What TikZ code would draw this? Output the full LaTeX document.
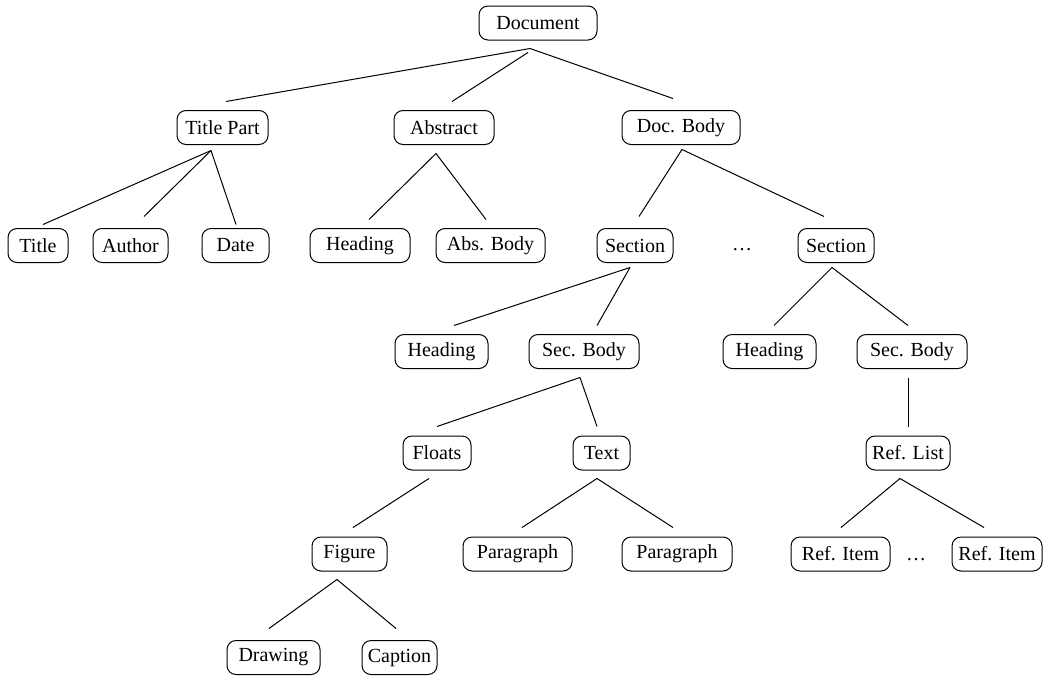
\documentclass[tikz,border=0pt]{standalone}
\usepackage{fontspec}
\setmainfont{Liberation Serif}
\begin{document}
\begin{tikzpicture}[x=0.5pt,y=-0.5pt,
  tbox/.style={draw, rounded corners=4.5pt, line width=0.5pt, inner sep=0pt,
               minimum height=17pt, font=\fontsize{10}{12}\selectfont},
  link/.style={line width=0.5pt},
  dotlabel/.style={anchor=base, inner sep=0pt, font=\fontsize{10}{12}\selectfont}]
\useasboundingbox (0,0) rectangle (1044,675);
% row 1
\node[tbox, minimum width=59pt] (doc) at (538,23) {Document};
% row 2
\node[tbox, minimum width=45.5pt] (tp) at (222.5,127.5) {Title Part};
\node[tbox, minimum width=50pt] (abs) at (444,127.5) {Abstract};
\node[tbox, minimum width=59pt] (db) at (681,127.5) {Doc. Body};
% row 3
\node[tbox, minimum width=30pt] (title) at (38,245.5) {Title};
\node[tbox, minimum width=37.5pt] (author) at (130.5,245.5) {Author};
\node[tbox, minimum width=33.5pt] (date) at (235.5,245.5) {Date};
\node[tbox, minimum width=50pt] (head0) at (360,245.5) {Heading};
\node[tbox, minimum width=54.5pt] (absbody) at (490.5,245.5) {Abs. Body};
\node[tbox, minimum width=38pt] (sec1) at (635,245.5) {Section};
\node[dotlabel] (dots1) at (742,250) {\dots};
\node[tbox, minimum width=38pt] (sec2) at (836,245.5) {Section};
% row 4
\node[tbox, minimum width=46.5pt] (head1) at (441.5,351.5) {Heading};
\node[tbox, minimum width=55pt] (sb1) at (584,351.5) {Sec. Body};
\node[tbox, minimum width=46.5pt] (head2) at (769.5,351.5) {Heading};
\node[tbox, minimum width=55pt] (sb2) at (912,351.5) {Sec. Body};
% row 5
\node[tbox, minimum width=34pt] (floats) at (437,453) {Floats};
\node[tbox, minimum width=28.5pt] (text) at (601.5,453) {Text};
\node[tbox, minimum width=42pt] (reflist) at (908,453) {Ref. List};
% row 6
\node[tbox, minimum width=37.5pt] (figure) at (349.5,554) {Figure};
\node[tbox, minimum width=54.5pt] (par1) at (517.5,554) {Paragraph};
\node[tbox, minimum width=55pt] (par2) at (677,554) {Paragraph};
\node[tbox, minimum width=49.5pt] (ri1) at (840.5,554) {Ref. Item};
\node[dotlabel] (dots2) at (916,560) {\dots};
\node[tbox, minimum width=45pt] (ri2) at (997,554) {Ref. Item};
% row 7
\node[tbox, minimum width=46.5pt] (drawing) at (273.5,657.5) {Drawing};
\node[tbox, minimum width=37.5pt] (caption) at (399.5,657.5) {Caption};
% connectors
\newcommand{\edgeline}[6]{\draw[link] ([shift={(#2)}]#1.south) -- ([shift={(#5)}]#4.north);}
\draw[link] ([shift={(-8,8)}]doc.south) -- ([shift={(3.5,-8.5)}]tp.north);
\draw[link] ([shift={(-10,12)}]doc.south) -- ([shift={(8,-8.5)}]abs.north);
\draw[link] ([shift={(-8,8)}]doc.south) -- ([shift={(-8,-11.5)}]db.north);
\draw[link] ([shift={(-11.5,5.5)}]tp.south) -- ([shift={(5,-3.5)}]title.north);
\draw[link] ([shift={(-11.5,5.5)}]tp.south) -- ([shift={(13.5,-11.5)}]author.north);
\draw[link] ([shift={(-11.5,5.5)}]tp.south) -- ([shift={(0.5,-3.5)}]date.north);
\draw[link] ([shift={(-8,8.5)}]abs.south) -- ([shift={(9,-8.5)}]head0.north);
\draw[link] ([shift={(-8,8.5)}]abs.south) -- ([shift={(-4.5,-8.5)}]absbody.north);
\draw[link] ([shift={(1,4.5)}]db.south) -- ([shift={(4,-11.5)}]sec1.north);
\draw[link] ([shift={(1,4.5)}]db.south) -- ([shift={(-12,-11.5)}]sec2.north);
\draw[link] ([shift={(-5,4.5)}]sec1.south) -- ([shift={(12.5,-8.5)}]head1.north);
\draw[link] ([shift={(-5,4.5)}]sec1.south) -- ([shift={(13,-8.5)}]sb1.north);
\draw[link] ([shift={(-4,4.5)}]sec2.south) -- ([shift={(4.5,-8.5)}]head2.north);
\draw[link] ([shift={(-4,4.5)}]sec2.south) -- ([shift={(-4,-8.5)}]sb2.north);
\draw[link] ([shift={(-4,8.5)}]sb1.south) -- ([shift={(0,-9)}]floats.north);
\draw[link] ([shift={(-4,8.5)}]sb1.south) -- ([shift={(-4.5,-9)}]text.north);
\draw[link] ([shift={(-4,8.5)}]sb2.south) -- ([shift={(0,-9)}]reflist.north);
\draw[link] ([shift={(-8,8)}]floats.south) -- ([shift={(3.5,-9)}]figure.north);
\draw[link] ([shift={(-4.5,8)}]text.south) -- ([shift={(4.5,-9)}]par1.north);
\draw[link] ([shift={(-4.5,8)}]text.south) -- ([shift={(-4,-9)}]par2.north);
\draw[link] ([shift={(-8,8)}]reflist.south) -- ([shift={(0.5,-9)}]ri1.north);
\draw[link] ([shift={(-8,8)}]reflist.south) -- ([shift={(-13,-9)}]ri2.north);
\draw[link] ([shift={(-12.5,8)}]figure.south) -- ([shift={(-4.5,-11.5)}]drawing.north);
\draw[link] ([shift={(-12.5,8)}]figure.south) -- ([shift={(-3.5,-11.5)}]caption.north);
\end{tikzpicture}
\end{document}
